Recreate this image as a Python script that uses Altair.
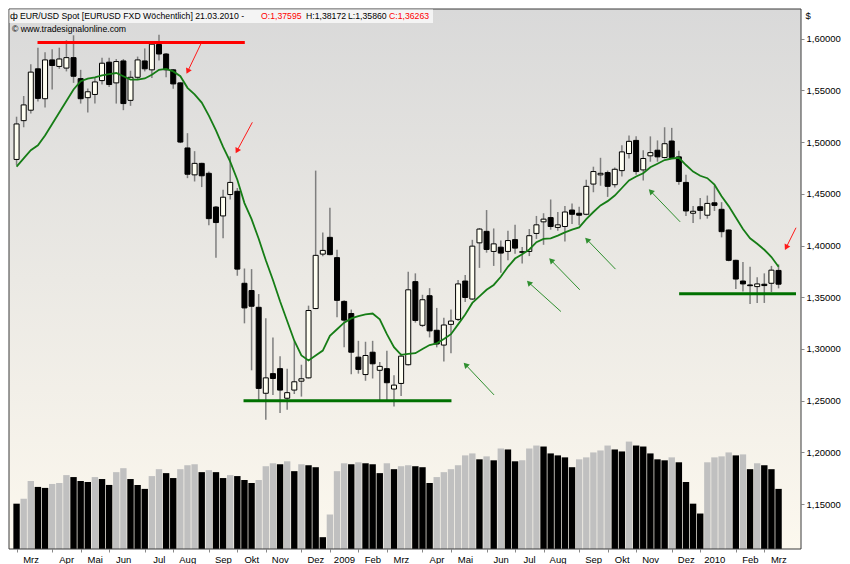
import json
import altair as alt
import pandas as pd

# ---------------- data (weekly EUR/USD) ----------------
opens = [1.4832,1.5207,1.5308,1.5708,1.5419,1.5794,1.5731,1.5715,1.5816,1.5613,
 1.5429,1.5460,1.5594,1.5772,1.5572,1.5784,1.5403,1.5626,1.5784,1.5698,
 1.5943,1.5851,1.5698,1.5572,1.4943,1.4683,1.4794,1.4698,1.4372,1.4286,
 1.4493,1.4524,1.3635,1.3565,1.3403,1.2572,1.2762,1.2810,1.2524,1.2603,
 1.2689,1.2721,1.3391,1.3917,1.4079,1.3883,1.3460,1.3343,1.2921,1.2753,
 1.2969,1.2794,1.2810,1.2613,1.2667,1.2848,1.3651,1.3229,1.3515,1.3181,
 1.3038,1.3238,1.3286,1.3657,1.3483,1.4026,1.4137,1.3943,1.3984,1.3943,
 1.4057,1.3940,1.3943,1.4117,1.4229,1.4270,1.4175,1.4184,1.4343,1.4312,
 1.4302,1.4594,1.4683,1.4705,1.4588,1.4724,1.4889,1.5016,1.4731,1.4867,
 1.4921,1.4851,1.5010,1.4857,1.4610,1.4312,1.4375,1.4293,1.4413,1.4350,
 1.4150,1.3857,1.3657,1.3619,1.3603,1.3626,1.3635,1.37595]
highs = [1.5245,1.5445,1.5753,1.5912,1.5867,1.5898,1.5912,1.5984,1.6032,1.5698,
 1.5517,1.5626,1.5816,1.5816,1.5803,1.5803,1.5689,1.5826,1.5905,1.5969,
 1.6038,1.5860,1.5705,1.5580,1.5086,1.4912,1.4800,1.4715,1.4381,1.4540,
 1.4864,1.4556,1.3778,1.3772,1.3531,1.3296,1.3112,1.2931,1.2810,1.3074,
 1.2848,1.3419,1.4724,1.4127,1.4365,1.3959,1.3470,1.3381,1.3079,1.3070,
 1.3079,1.2874,1.2984,1.2746,1.2953,1.3746,1.3731,1.3524,1.3588,1.3397,
 1.3302,1.3381,1.3667,1.3715,1.4055,1.4169,1.4343,1.4165,1.4048,1.4143,
 1.4200,1.3985,1.4159,1.4286,1.4312,1.4445,1.4324,1.4381,1.4407,1.4375,
 1.4636,1.4762,1.4848,1.4724,1.4753,1.4969,1.5064,1.5057,1.4921,1.5055,
 1.5016,1.5143,1.5137,1.4915,1.4683,1.4381,1.4460,1.4483,1.4578,1.4419,
 1.4155,1.3862,1.3841,1.3794,1.3693,1.3731,1.3803,1.38172]
lows = [1.4778,1.5143,1.5276,1.5391,1.5334,1.5508,1.5708,1.5683,1.5572,1.5372,
 1.5286,1.5372,1.5556,1.5531,1.5372,1.5308,1.5350,1.5603,1.5683,1.5619,
 1.5788,1.5626,1.5515,1.4990,1.4651,1.4619,1.4565,1.4197,1.3883,1.4070,
 1.4445,1.3708,1.3248,1.2794,1.2493,1.2317,1.2555,1.2381,1.2413,1.2565,
 1.2540,1.2715,1.3385,1.3896,1.3905,1.3308,1.3016,1.2756,1.2762,1.2693,
 1.2715,1.2508,1.2493,1.2445,1.2546,1.2841,1.3255,1.3213,1.3112,1.3016,
 1.2879,1.2959,1.3270,1.3455,1.3476,1.3784,1.3931,1.3803,1.3737,1.3857,
 1.3921,1.3827,1.3898,1.4064,1.4007,1.4153,1.4143,1.4038,1.4207,1.4197,
 1.4293,1.4515,1.4578,1.4470,1.4562,1.4667,1.4841,1.4683,1.4629,1.4810,
 1.4810,1.4841,1.4841,1.4588,1.4286,1.4217,1.4255,1.4260,1.4334,1.4079,
 1.3848,1.3581,1.3555,1.3436,1.3445,1.3445,1.3550,1.35860]
closes = [1.5175,1.5359,1.5676,1.5422,1.5794,1.5740,1.5803,1.5816,1.5636,1.5419,
 1.5486,1.5581,1.5762,1.5556,1.5778,1.5372,1.5626,1.5794,1.5708,1.5946,
 1.5851,1.5698,1.5562,1.5000,1.4689,1.4794,1.4674,1.4260,1.4222,1.4467,
 1.4610,1.3772,1.3397,1.3413,1.2619,1.2721,1.2715,1.2603,1.2578,1.2683,
 1.2712,1.3372,1.3905,1.3953,1.3912,1.3470,1.3279,1.2969,1.2803,1.2937,
 1.2857,1.2832,1.2674,1.2651,1.2931,1.3572,1.3276,1.3476,1.3175,1.3048,
 1.3232,1.3270,1.3629,1.3498,1.3994,1.4159,1.3962,1.4016,1.3927,1.4048,
 1.3975,1.3935,1.4095,1.4200,1.4255,1.4184,1.4200,1.4324,1.4302,1.4293,
 1.4572,1.4715,1.4698,1.4572,1.4737,1.4905,1.5007,1.4715,1.4841,1.4898,
 1.4857,1.4984,1.4851,1.4619,1.4334,1.4331,1.4340,1.4407,1.4388,1.4134,
 1.3857,1.3676,1.3629,1.3612,1.3629,1.3613,1.3762,1.36263]
moving_avg = [1.4762,1.4842,1.4921,1.4969,1.5064,1.5175,1.5286,1.5397,1.5508,1.5588,
 1.5613,1.5626,1.5645,1.5657,1.5667,1.5636,1.5603,1.5603,1.5615,1.5651,
 1.5698,1.5708,1.5683,1.5636,1.5524,1.5460,1.5381,1.5255,1.5112,1.4953,
 1.4810,1.4636,1.4410,1.4255,1.4065,1.3857,1.3667,1.3461,1.3271,1.3080,
 1.2937,1.2890,1.2937,1.2985,1.3128,1.3191,1.3255,1.3296,1.3318,1.3334,
 1.3343,1.3286,1.3143,1.3017,1.2943,1.2953,1.2959,1.3000,1.3038,1.3055,
 1.3096,1.3143,1.3238,1.3334,1.3445,1.3508,1.3572,1.3619,1.3698,1.3794,
 1.3874,1.3915,1.3962,1.4032,1.4064,1.4070,1.4096,1.4127,1.4153,1.4175,
 1.4255,1.4324,1.4388,1.4429,1.4483,1.4556,1.4629,1.4667,1.4698,1.4757,
 1.4791,1.4826,1.4841,1.4848,1.4778,1.4715,1.4674,1.4651,1.4588,1.4476,
 1.4381,1.4270,1.4159,1.4070,1.4017,1.3959,1.3889,1.3794]
volume = [46,51,69,63,62,66,67,75,73,69, 68,73,71,65,78,82,71,65,61,74,
 81,77,72,81,85,86,78,80,78,72, 75,74,70,67,70,84,87,86,89,79,
 86,85,83,12,35,79,87,86,88,87, 86,77,87,81,84,85,84,83,67,73,
 78,81,85,95,97,91,94,90,102,101, 89,90,102,105,104,97,95,93,83,91,
 93,98,100,105,101,99,109,105,104,97, 91,90,93,88,68,46,36,88,93,94,
 98,95,96,81,87,85,81,61]

month_names = ["Jan", "Feb", "Mrz", "Apr", "Mai", "Jun", "Jul", "Aug", "Sep", "Okt", "Nov", "Dez"]
price_ticks = [1.15, 1.20, 1.25, 1.30, 1.35, 1.40, 1.45, 1.50, 1.55, 1.60]

# support / resistance lines (week index, price)
level_x0 = [2.94, 31.87, 93.04]
level_x1 = [32.05, 61.07, 109.45]
level_y = [1.5962, 1.2500, 1.3534]
level_col = ["#ff0000", "#007000", "#007000"]

# arrows: tail -> head (week index, price)
arr_x0 = [25.91, 33.11, 109.45, 67.05, 76.44, 79.09, 84.10, 93.18]
arr_y0 = [1.5953, 1.5191, 1.4172, 1.2556, 1.3362, 1.3572, 1.3772, 1.4229]
arr_x1 = [24.03, 30.95, 108.07, 63.05, 71.94, 75.06, 80.11, 89.05]
arr_y1 = [1.5683, 1.4915, 1.3981, 1.2848, 1.3641, 1.3857, 1.4057, 1.4524]
arr_col = ["#ff1a1a"] * 3 + ["#2f8f2f"] * 5
arr_ang = [206, 208, 207, 316, 316, 316, 316, 316]

# ---------------- tables ----------------
n = len(closes)
weeks = pd.date_range("2008-03-02", periods=n, freq="7D")
tick_idx, tick_lbl = [], []
for i, d in enumerate(weeks):
    if i == 0 or d.month != weeks[i - 1].month:
        tick_idx.append(i)
        tick_lbl.append(str(d.year) if d.month == 1 else month_names[d.month - 1])

df = pd.DataFrame({"i": list(range(n)), "o": opens, "h": highs, "l": lows,
                   "c": closes, "ma": moving_avg, "vol": volume})
df["lo"] = df[["o", "c"]].min(axis=1)
df["hi"] = df[["o", "c"]].max(axis=1)
df["fill"] = ["#fffff2" if c >= o else "#000000" for o, c in zip(opens, closes)]
df["vcol"] = ["#000000"] + ["#c0c0c0" if volume[k] > volume[k - 1] else "#000000" for k in range(1, n)]

levels = pd.DataFrame({"x0": level_x0, "x1": level_x1, "y": level_y, "col": level_col})
arrows = pd.DataFrame({"x0": arr_x0, "y0": arr_y0, "x1": arr_x1, "y1": arr_y1,
                       "col": arr_col, "ang": arr_ang})
one = pd.DataFrame({"a": [0]})

W, H = 792, 540
FONT = "Liberation Sans"

x_axis = alt.Axis(values=tick_idx,
                  labelExpr=f"{json.dumps(tick_lbl)}[indexof({json.dumps(tick_idx)}, datum.value)]",
                  labelAlign="center", labelOffset=14, labelFlush=False, labelOverlap=False,
                  tickSize=3, tickColor="#888888", domain=False, grid=False,
                  labelFontSize=9.5, labelColor="#000000", labelPadding=2, title=None)
y_axis = alt.Axis(orient="right", values=price_ticks,
                  labelExpr="replace(format(datum.value, '.5f'), '.', ',')",
                  tickSize=3, tickColor="#888888", domain=False, grid=False,
                  labelFontSize=9.5, labelColor="#000000", labelPadding=2, labelFlush=False,
                  title="$", titleAngle=0, titleX=4, titleY=1, titleAlign="left",
                  titleBaseline="top", titleFontWeight="normal", titleFontSize=9.5)

x_scale = alt.Scale(domain=[-0.36, 109.45], nice=False, zero=False)
y_scale = alt.Scale(domain=[1.1067, 1.6286], nice=False, zero=False)


def X(f):
    return alt.X(f"{f}:Q", scale=x_scale, axis=x_axis, title=None)


def Y(f):
    return alt.Y(f"{f}:Q", scale=y_scale, axis=y_axis, title=None)


gradient = alt.LinearGradient(gradient="linear",
                              stops=[alt.GradientStop(color="#d9d9d9", offset=0),
                                     alt.GradientStop(color="#ebe9e4", offset=0.5),
                                     alt.GradientStop(color="#fcf8ee", offset=1)],
                              x1=0, x2=0, y1=0, y2=1)

bg = alt.Chart(one).mark_rect(fill=gradient).encode(
    x=alt.value(0), x2=alt.value(W), y=alt.value(0), y2=alt.value(H))

vol = alt.Chart(df).mark_bar(size=6.4).encode(
    x=X("i"),
    y=alt.Y("vol:Q", scale=alt.Scale(domain=[0, 548], nice=False), axis=None, title=None),
    color=alt.Color("vcol:N", scale=None))

wick = alt.Chart(df).mark_rule(color="#7f7f7f", strokeWidth=1.5).encode(
    x=X("i"), y=Y("l"), y2="h")
body = alt.Chart(df).mark_bar(size=5, stroke="#000000", strokeWidth=1).encode(
    x=X("i"), y=Y("lo"), y2="hi", fill=alt.Color("fill:N", scale=None))
ma_line = alt.Chart(df).mark_line(color="#167d16", strokeWidth=1.8).encode(
    x=X("i"), y=Y("ma"))
lvl = alt.Chart(levels).mark_rule(strokeWidth=3).encode(
    x=X("x0"), x2="x1", y=Y("y"), color=alt.Color("col:N", scale=None))
arr = alt.Chart(arrows).mark_rule(strokeWidth=1).encode(
    x=X("x0"), x2="x1", y=Y("y0"), y2="y1", color=alt.Color("col:N", scale=None))
heads = alt.Chart(arrows).mark_point(shape="triangle-up", filled=True, size=40, opacity=1).encode(
    x=X("x1"), y=Y("y1"), color=alt.Color("col:N", scale=None),
    angle=alt.Angle("ang:Q", scale=None))

price = alt.layer(wick, body, ma_line, lvl, arr, heads)

frame = alt.Chart(one).mark_rect(fillOpacity=0, stroke="#3a3a3a", strokeWidth=1).encode(
    x=alt.value(0), x2=alt.value(W), y=alt.value(0), y2=alt.value(H))

head_bg = alt.Chart(one).mark_rect(fill="#f4f4f4").encode(
    x=alt.value(0.5), x2=alt.value(424), y=alt.value(0.5), y2=alt.value(14))


def txt(s, px, py, color="#000000", size=8.7):
    return alt.Chart(one).mark_text(text=s, align="left", baseline="middle", fontSize=size,
                                    color=color, font=FONT).encode(
        x=alt.value(px), y=alt.value(py))


header = [
    txt("ф", 1, 7, size=9.5),
    txt("EUR/USD Spot [EURUSD FXD  Wöchentlich] 21.03.2010 -", 11, 7),
    txt("O:1,37595", 252, 7, "#ff0000"),
    txt("H:1,38172", 297, 7),
    txt("L:1,35860", 339, 7),
    txt("C:1,36263", 380, 7, "#ff0000"),
    txt("© www.tradesignalonline.com", 3, 20),
]

chart = alt.layer(bg, vol, price, frame, head_bg, *header).resolve_scale(
    y="independent"
).properties(
    width=W, height=H, padding=0, background="#ffffff"
).configure(font=FONT).configure_view(strokeWidth=0)

chart.save("out.html", embed_options={"renderer": "svg", "actions": False})
